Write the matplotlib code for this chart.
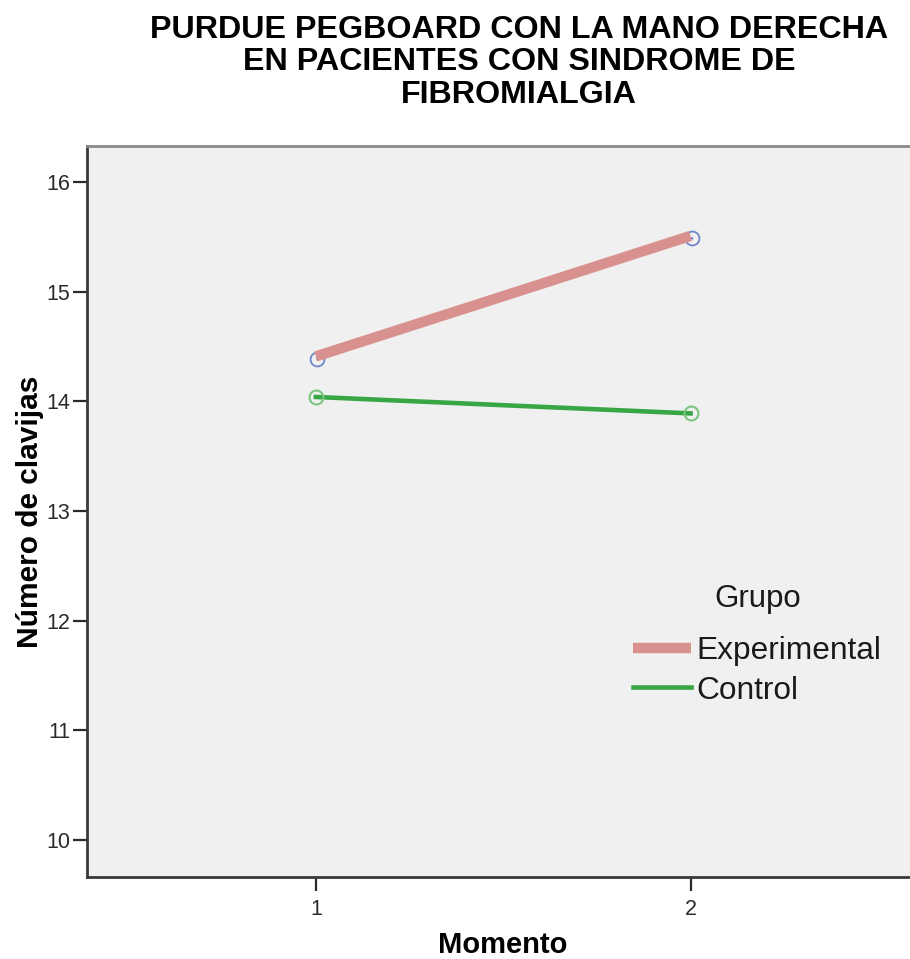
import matplotlib
matplotlib.use("Agg")
import matplotlib.pyplot as plt
import matplotlib.transforms as mtransforms
from matplotlib.lines import Line2D

plt.rcParams['font.family'] = ['Liberation Sans', 'DejaVu Sans']

# Mean number of pegs placed with the right hand, by group and time point
momento = [1, 2]
experimental = [14.41, 15.51]
control = [14.04, 13.89]
grupos = ["Experimental", "Control"]
yticks = [10, 11, 12, 13, 14, 15, 16]

title = "PURDUE PEGBOARD CON LA MANO DERECHA\nEN PACIENTES CON SINDROME DE\nFIBROMIALGIA"

fig = plt.figure(figsize=(9.10, 9.59), dpi=100)
fig.patch.set_facecolor("white")
ax = fig.add_axes([87 / 910, 1 - 877 / 959, 1.0 - 87 / 910 + 0.01, (877 - 146) / 959])
ax.set_facecolor("#f0f0f0")

ax.set_xlim(0.389, 2.61)
ax.set_ylim(9.66, 16.33)

# Experimental: thin blue trace with open markers, wide rose band on top
shift = mtransforms.offset_copy(ax.transData, fig=fig, x=1.5, y=-2.5, units="dots")
ax.plot(momento, experimental, color="#5a78d0", lw=1.5, marker="o", ms=10,
        mfc="none", mec="#6f86c8", mew=1.3, transform=shift, zorder=3)
ax.plot(momento, experimental, color="#d8918e", lw=7.5, solid_capstyle="butt", zorder=4)

# Control: green line with open markers
ax.plot(momento, control, color="#38a645", lw=3.3, marker="o", ms=10,
        mfc="none", mec="#78c57e", mew=1.5, zorder=3)

ax.set_xticks(momento)
ax.set_xticklabels([str(m) for m in momento])
ax.set_yticks(yticks)
ax.set_yticklabels([str(v) for v in yticks])
ax.tick_params(axis="both", direction="out", length=10, width=1.6, colors="#2a2a2a",
               labelsize=15.5, labelcolor="#2a2a2a", pad=2)
ax.tick_params(axis="x", pad=6)

for side in ("left", "bottom"):
    ax.spines[side].set_color("#3a3a3a")
    ax.spines[side].set_linewidth(2)
ax.spines["top"].set_color("#8a8a8a")
ax.spines["top"].set_linewidth(2)
ax.spines["right"].set_visible(False)

ax.set_xlabel("Momento", fontsize=21, fontweight="bold")
ax.set_ylabel("Número de clavijas", fontsize=21.5, fontweight="bold")
ax.xaxis.set_label_coords(0.5, -0.074)
ax.yaxis.set_label_coords(-0.052, 0.5)

fig.text(519 / 910, 1 - 15 / 959, title, ha="center", va="top", fontsize=23.2,
         fontweight="bold", linespacing=1.1)

# Legend: group heading plus one entry per group
ax.text((750 - 87) / 823, (877 - 599) / 731, "Grupo", transform=ax.transAxes,
        ha="center", va="center", fontsize=22.5, color="#1a1a1a")
handles = [
    Line2D([], [], color="#d8918e", lw=7.5, solid_capstyle="butt"),
    Line2D([], [], color="#38a645", lw=3.3),
]
leg = ax.legend(handles, grupos, frameon=False, fontsize=22.8,
                handlelength=1.85, handletextpad=0.15,
                labelspacing=0.3, borderaxespad=0.0,
                loc="upper left", bbox_to_anchor=(0.6406, 0.347))
for t in leg.get_texts():
    t.set_color("#1a1a1a")

fig.savefig("out.png", dpi=100, facecolor="white")
